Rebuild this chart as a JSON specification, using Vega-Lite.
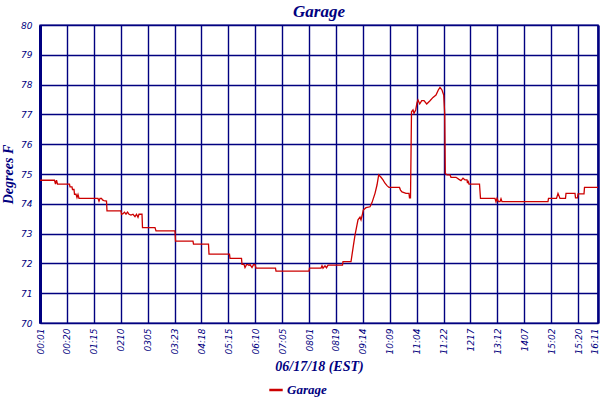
{
  "$schema": "https://vega.github.io/schema/vega-lite/v6.json",
  "autosize": {"type": "none"},
  "width": 558,
  "height": 298,
  "padding": {"left": 40, "top": 25, "right": 2, "bottom": 77},
  "background": "white",
  "title": {
    "text": "Garage",
    "font": "Liberation Serif",
    "fontSize": 17,
    "fontStyle": "italic",
    "fontWeight": "bold",
    "color": "#000080",
    "anchor": "middle",
    "offset": 0
  },
  "data": {
    "values": [
      {"x": 0, "temp": 74.79, "series": "Garage"},
      {"x": 14.5, "temp": 74.79, "series": "Garage"},
      {"x": 15.5, "temp": 74.66, "series": "Garage"},
      {"x": 16.5, "temp": 74.79, "series": "Garage"},
      {"x": 17.5, "temp": 74.66, "series": "Garage"},
      {"x": 29.5, "temp": 74.66, "series": "Garage"},
      {"x": 30, "temp": 74.57, "series": "Garage"},
      {"x": 32, "temp": 74.57, "series": "Garage"},
      {"x": 32.5, "temp": 74.48, "series": "Garage"},
      {"x": 34, "temp": 74.48, "series": "Garage"},
      {"x": 34.5, "temp": 74.32, "series": "Garage"},
      {"x": 36, "temp": 74.32, "series": "Garage"},
      {"x": 37, "temp": 74.21, "series": "Garage"},
      {"x": 38, "temp": 74.31, "series": "Garage"},
      {"x": 39, "temp": 74.18, "series": "Garage"},
      {"x": 58, "temp": 74.18, "series": "Garage"},
      {"x": 59, "temp": 74.09, "series": "Garage"},
      {"x": 60, "temp": 74.18, "series": "Garage"},
      {"x": 61.5, "temp": 74.18, "series": "Garage"},
      {"x": 62.5, "temp": 74.13, "series": "Garage"},
      {"x": 64, "temp": 74.11, "series": "Garage"},
      {"x": 66.5, "temp": 74.09, "series": "Garage"},
      {"x": 67, "temp": 73.76, "series": "Garage"},
      {"x": 81, "temp": 73.76, "series": "Garage"},
      {"x": 81.5, "temp": 73.65, "series": "Garage"},
      {"x": 83, "temp": 73.67, "series": "Garage"},
      {"x": 84.5, "temp": 73.72, "series": "Garage"},
      {"x": 86, "temp": 73.65, "series": "Garage"},
      {"x": 87.5, "temp": 73.72, "series": "Garage"},
      {"x": 89, "temp": 73.65, "series": "Garage"},
      {"x": 91, "temp": 73.62, "series": "Garage"},
      {"x": 93, "temp": 73.65, "series": "Garage"},
      {"x": 95, "temp": 73.57, "series": "Garage"},
      {"x": 96.5, "temp": 73.65, "series": "Garage"},
      {"x": 98, "temp": 73.55, "series": "Garage"},
      {"x": 99, "temp": 73.65, "series": "Garage"},
      {"x": 102, "temp": 73.65, "series": "Garage"},
      {"x": 102.5, "temp": 73.2, "series": "Garage"},
      {"x": 115, "temp": 73.2, "series": "Garage"},
      {"x": 116, "temp": 73.09, "series": "Garage"},
      {"x": 135, "temp": 73.09, "series": "Garage"},
      {"x": 135.5, "temp": 72.75, "series": "Garage"},
      {"x": 153, "temp": 72.75, "series": "Garage"},
      {"x": 153.5, "temp": 72.65, "series": "Garage"},
      {"x": 168.5, "temp": 72.65, "series": "Garage"},
      {"x": 169, "temp": 72.31, "series": "Garage"},
      {"x": 189.5, "temp": 72.31, "series": "Garage"},
      {"x": 190, "temp": 72.17, "series": "Garage"},
      {"x": 201.5, "temp": 72.17, "series": "Garage"},
      {"x": 202, "temp": 71.97, "series": "Garage"},
      {"x": 204, "temp": 71.97, "series": "Garage"},
      {"x": 205, "temp": 71.86, "series": "Garage"},
      {"x": 206.5, "temp": 71.96, "series": "Garage"},
      {"x": 208, "temp": 71.96, "series": "Garage"},
      {"x": 209, "temp": 71.93, "series": "Garage"},
      {"x": 210, "temp": 71.96, "series": "Garage"},
      {"x": 212, "temp": 71.86, "series": "Garage"},
      {"x": 213.5, "temp": 71.96, "series": "Garage"},
      {"x": 215, "temp": 71.96, "series": "Garage"},
      {"x": 216, "temp": 71.84, "series": "Garage"},
      {"x": 235.5, "temp": 71.84, "series": "Garage"},
      {"x": 236, "temp": 71.74, "series": "Garage"},
      {"x": 269, "temp": 71.74, "series": "Garage"},
      {"x": 269.5, "temp": 71.84, "series": "Garage"},
      {"x": 281, "temp": 71.84, "series": "Garage"},
      {"x": 282, "temp": 71.92, "series": "Garage"},
      {"x": 283, "temp": 71.84, "series": "Garage"},
      {"x": 285, "temp": 71.92, "series": "Garage"},
      {"x": 286.5, "temp": 71.85, "series": "Garage"},
      {"x": 288, "temp": 71.94, "series": "Garage"},
      {"x": 302.5, "temp": 71.94, "series": "Garage"},
      {"x": 303, "temp": 72.06, "series": "Garage"},
      {"x": 311, "temp": 72.06, "series": "Garage"},
      {"x": 313.5, "temp": 72.62, "series": "Garage"},
      {"x": 315, "temp": 72.95, "series": "Garage"},
      {"x": 317, "temp": 73.29, "series": "Garage"},
      {"x": 318, "temp": 73.46, "series": "Garage"},
      {"x": 320, "temp": 73.55, "series": "Garage"},
      {"x": 321, "temp": 73.46, "series": "Garage"},
      {"x": 322, "temp": 73.59, "series": "Garage"},
      {"x": 323.3, "temp": 73.79, "series": "Garage"},
      {"x": 326, "temp": 73.87, "series": "Garage"},
      {"x": 330, "temp": 73.9, "series": "Garage"},
      {"x": 332, "temp": 74.04, "series": "Garage"},
      {"x": 335, "temp": 74.35, "series": "Garage"},
      {"x": 337, "temp": 74.63, "series": "Garage"},
      {"x": 338.7, "temp": 74.97, "series": "Garage"},
      {"x": 341, "temp": 74.89, "series": "Garage"},
      {"x": 343, "temp": 74.8, "series": "Garage"},
      {"x": 345, "temp": 74.69, "series": "Garage"},
      {"x": 347, "temp": 74.61, "series": "Garage"},
      {"x": 349, "temp": 74.55, "series": "Garage"},
      {"x": 359.5, "temp": 74.55, "series": "Garage"},
      {"x": 360.5, "temp": 74.46, "series": "Garage"},
      {"x": 362, "temp": 74.4, "series": "Garage"},
      {"x": 366, "temp": 74.35, "series": "Garage"},
      {"x": 369, "temp": 74.35, "series": "Garage"},
      {"x": 369.5, "temp": 74.2, "series": "Garage"},
      {"x": 370.5, "temp": 74.2, "series": "Garage"},
      {"x": 371, "temp": 75.64, "series": "Garage"},
      {"x": 371.5, "temp": 77.09, "series": "Garage"},
      {"x": 373, "temp": 77.15, "series": "Garage"},
      {"x": 374, "temp": 77.04, "series": "Garage"},
      {"x": 375.7, "temp": 77.15, "series": "Garage"},
      {"x": 377, "temp": 77.39, "series": "Garage"},
      {"x": 378, "temp": 77.48, "series": "Garage"},
      {"x": 379.7, "temp": 77.35, "series": "Garage"},
      {"x": 381.7, "temp": 77.46, "series": "Garage"},
      {"x": 384, "temp": 77.46, "series": "Garage"},
      {"x": 386.7, "temp": 77.35, "series": "Garage"},
      {"x": 390, "temp": 77.46, "series": "Garage"},
      {"x": 393, "temp": 77.57, "series": "Garage"},
      {"x": 396, "temp": 77.65, "series": "Garage"},
      {"x": 398.3, "temp": 77.82, "series": "Garage"},
      {"x": 400, "temp": 77.91, "series": "Garage"},
      {"x": 402, "temp": 77.82, "series": "Garage"},
      {"x": 403.7, "temp": 77.65, "series": "Garage"},
      {"x": 404.7, "temp": 77.04, "series": "Garage"},
      {"x": 405.3, "temp": 75.02, "series": "Garage"},
      {"x": 407, "temp": 74.97, "series": "Garage"},
      {"x": 410, "temp": 74.97, "series": "Garage"},
      {"x": 411, "temp": 74.89, "series": "Garage"},
      {"x": 416, "temp": 74.89, "series": "Garage"},
      {"x": 419, "temp": 74.82, "series": "Garage"},
      {"x": 421, "temp": 74.78, "series": "Garage"},
      {"x": 423, "temp": 74.86, "series": "Garage"},
      {"x": 425, "temp": 74.8, "series": "Garage"},
      {"x": 427, "temp": 74.8, "series": "Garage"},
      {"x": 427.5, "temp": 74.69, "series": "Garage"},
      {"x": 428, "temp": 74.78, "series": "Garage"},
      {"x": 429, "temp": 74.66, "series": "Garage"},
      {"x": 439.5, "temp": 74.66, "series": "Garage"},
      {"x": 440.5, "temp": 74.18, "series": "Garage"},
      {"x": 455, "temp": 74.18, "series": "Garage"},
      {"x": 456, "temp": 74.07, "series": "Garage"},
      {"x": 457, "temp": 74.18, "series": "Garage"},
      {"x": 458.5, "temp": 74.07, "series": "Garage"},
      {"x": 460, "temp": 74.07, "series": "Garage"},
      {"x": 461, "temp": 74.17, "series": "Garage"},
      {"x": 462, "temp": 74.07, "series": "Garage"},
      {"x": 508, "temp": 74.07, "series": "Garage"},
      {"x": 508.5, "temp": 74.18, "series": "Garage"},
      {"x": 516.5, "temp": 74.18, "series": "Garage"},
      {"x": 518, "temp": 74.35, "series": "Garage"},
      {"x": 520, "temp": 74.18, "series": "Garage"},
      {"x": 525.5, "temp": 74.18, "series": "Garage"},
      {"x": 526, "temp": 74.35, "series": "Garage"},
      {"x": 535, "temp": 74.35, "series": "Garage"},
      {"x": 535.5, "temp": 74.2, "series": "Garage"},
      {"x": 537.5, "temp": 74.2, "series": "Garage"},
      {"x": 538, "temp": 74.33, "series": "Garage"},
      {"x": 544, "temp": 74.33, "series": "Garage"},
      {"x": 544.5, "temp": 74.55, "series": "Garage"},
      {"x": 558, "temp": 74.55, "series": "Garage"}
    ]
  },
  "mark": {"type": "line", "strokeWidth": 1.3, "interpolate": "linear"},
  "encoding": {
    "x": {
      "field": "x",
      "type": "quantitative",
      "scale": {"domain": [0, 558], "nice": false, "zero": false},
      "axis": {
        "title": "06/17/18 (EST)",
        "values": [0, 26.9, 53.8, 80.7, 107.6, 134.5, 161.4, 188.3, 215.2, 242.1, 269, 295.9, 322.8, 349.7, 376.6, 403.5, 430.4, 457.3, 484.2, 511.1, 538, 557.7],
        "labelExpr": "['00:01','00:20','01:15','0210','0305','03:23','04:18','05:15','06:10','07:05','0801','0819','09:14','10:09','11:04','11:22','1217','13:12','1407','15:02','15:20','16:11'][round(datum.value / 26.9)]",
        "labelAngle": -90,
        "labelFont": "DejaVu Sans",
        "labelFontStyle": "italic",
        "labelFontSize": 9,
        "labelColor": "#000080",
        "labelPadding": 5,
        "labelOffset": {"condition": {"test": "datum.value > 550", "value": -3}, "value": 0},
        "labelOverlap": false,
        "labelFlush": false,
        "ticks": false,
        "domain": false,
        "grid": true,
        "gridColor": "#000080",
        "gridOpacity": 1,
        "gridWidth": {"condition": {"test": "datum.value > 550", "value": 2.5}, "value": 1.4},
        "titleFont": "Liberation Serif",
        "titleFontSize": 14,
        "titleFontStyle": "italic",
        "titleFontWeight": "bold",
        "titleColor": "#000080",
        "titlePadding": 6
      }
    },
    "y": {
      "field": "temp",
      "type": "quantitative",
      "scale": {"domain": [70, 80], "nice": false, "zero": false},
      "axis": {
        "title": "Degrees F",
        "values": [70, 71, 72, 73, 74, 75, 76, 77, 78, 79, 80],
        "labelFont": "DejaVu Sans",
        "labelFontStyle": "italic",
        "labelFontSize": 9,
        "labelColor": "#000080",
        "labelPadding": 8,
        "ticks": false,
        "domain": true,
        "domainColor": "#000080",
        "domainWidth": 3,
        "grid": true,
        "gridColor": "#000080",
        "gridOpacity": 1,
        "gridWidth": 1.4,
        "titleFont": "Liberation Serif",
        "titleFontSize": 14,
        "titleFontStyle": "italic",
        "titleFontWeight": "bold",
        "titleColor": "#000080",
        "titlePadding": 5
      }
    },
    "color": {
      "field": "series",
      "type": "nominal",
      "scale": {"range": ["#cc0000"]},
      "legend": {
        "title": null,
        "orient": "none",
        "legendX": 228,
        "legendY": 357,
        "symbolType": "stroke",
        "symbolStrokeWidth": 2.5,
        "symbolSize": 180,
        "labelFont": "Liberation Serif",
        "labelFontSize": 13,
        "labelFontStyle": "italic",
        "labelFontWeight": "bold",
        "labelColor": "#000080",
        "labelOffset": 3
      }
    }
  },
  "config": {
    "view": {"stroke": "#000080", "strokeWidth": 1.4}
  }
}
